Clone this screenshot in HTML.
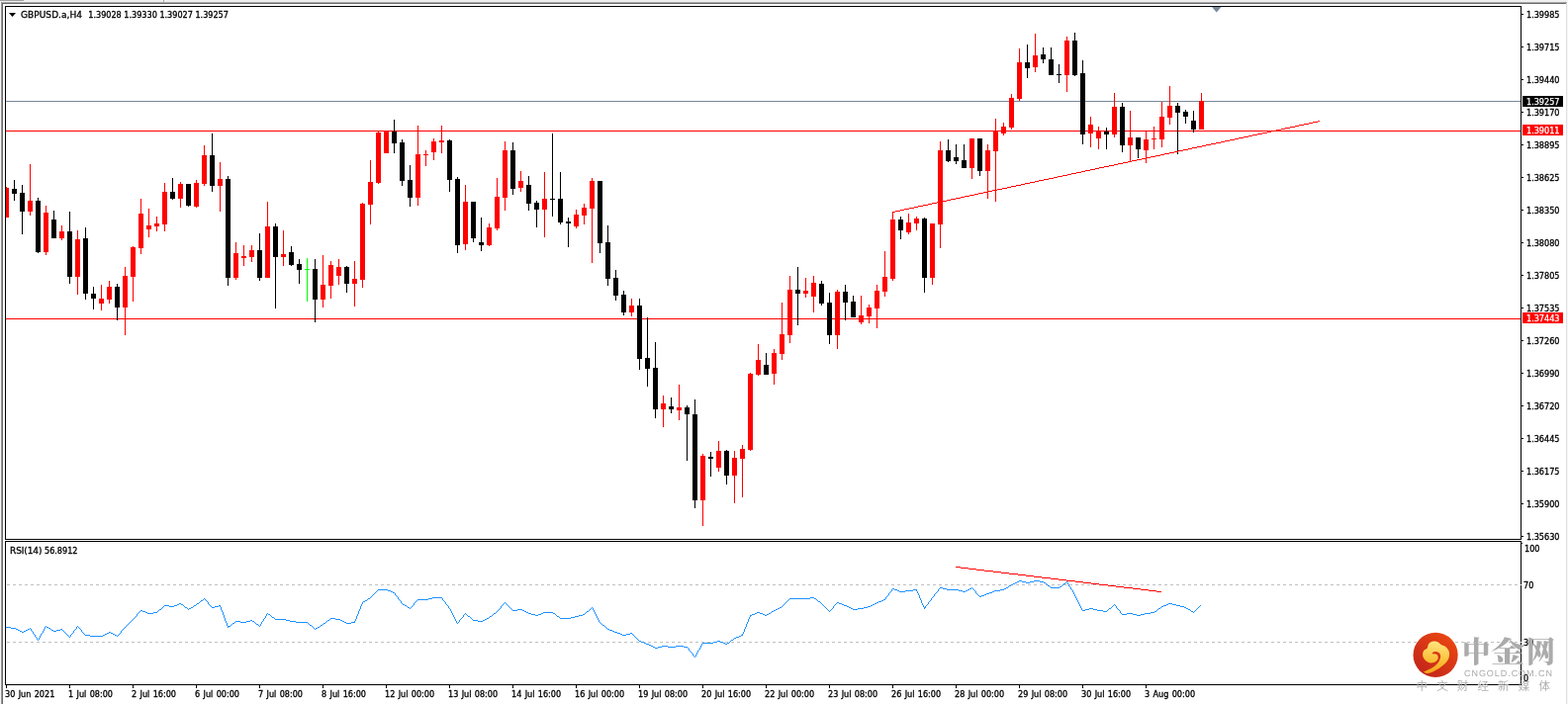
<!DOCTYPE html>
<html lang="en"><head><meta charset="utf-8"><title>GBPUSD.a,H4</title>
<style>
html,body{margin:0;padding:0;background:#fff;}
body{width:1585px;height:712px;overflow:hidden;position:relative;font-family:"Liberation Sans","Noto Sans CJK SC",sans-serif;}
#chart{position:absolute;left:0;top:0;width:1585px;height:712px;overflow:hidden;background:#fff;}
#chart svg{position:absolute;left:0;top:0;}
.t{position:absolute;white-space:pre;font-family:"DejaVu Sans Condensed","Liberation Sans",sans-serif;font-size:9px;line-height:12px;height:12px;color:#000;letter-spacing:0px;margin-top:-1px;-webkit-text-stroke:0.3px #000;}
.pl{left:1543px;}
.box{position:absolute;left:1539px;width:41px;height:11px;}
.box span{position:absolute;left:4px;top:0px;white-space:pre;font-family:"DejaVu Sans Condensed","Liberation Sans",sans-serif;font-size:9px;line-height:12px;color:#fff;letter-spacing:0px;-webkit-text-stroke:0.25px #fff;}
.tl{top:697px;word-spacing:0.8px;}
#wm{position:absolute;left:0;top:0;width:1585px;height:712px;}
#wm .cn{position:absolute;top:638px;font-family:"Liberation Serif","Noto Serif CJK SC",serif;font-weight:900;font-size:29px;line-height:44px;color:#ababab;white-space:pre;transform-origin:0 0;}
#wm .en{position:absolute;left:1480px;top:675px;font-size:9px;line-height:12px;color:#ababab;white-space:pre;letter-spacing:0.95px;text-rendering:geometricPrecision;}
#wm .sub{position:absolute;left:1431.5px;top:686px;font-family:"Liberation Sans","Noto Sans CJK SC",sans-serif;font-size:11.5px;line-height:16px;color:#b0b0b0;white-space:pre;letter-spacing:9.15px;font-weight:400;}
</style></head><body><div id="chart">
<svg width="1585" height="712" viewBox="0 0 1585 712" shape-rendering="crispEdges">
<rect x="0" y="0" width="1585" height="2" fill="#f0f0f0"/>
<rect x="0" y="0" width="24" height="1" fill="#a0a0a0"/>
<rect x="165" y="0" width="1" height="2" fill="#a8a8a8"/>
<rect x="0" y="2" width="1" height="710" fill="#f6f6f6"/>
<rect x="1" y="2" width="1583" height="1" fill="#a8a8a8"/>
<rect x="1" y="2" width="1" height="710" fill="#969696"/>
<rect x="2" y="3" width="1581" height="1" fill="#6a6a6a"/>
<rect x="2" y="3" width="1" height="709" fill="#6a6a6a"/>
<rect x="1583" y="3" width="1" height="709" fill="#e0e0e0"/>
<rect x="1584" y="0" width="1" height="712" fill="#f6f6f6"/>
<g fill="#000">
<rect x="5" y="6" width="1533" height="1"/>
<rect x="5" y="6" width="1" height="540"/>
<rect x="5" y="545" width="1533" height="1"/>
<rect x="1537" y="6" width="1" height="540"/>
<rect x="1537" y="547" width="1" height="146"/>
<rect x="5" y="547" width="1533" height="1"/>
<rect x="5" y="547" width="1" height="146"/>
<rect x="5" y="692" width="1533" height="1"/>
<rect x="1538" y="14" width="2" height="1"/>
<rect x="1538" y="47" width="2" height="1"/>
<rect x="1538" y="80" width="2" height="1"/>
<rect x="1538" y="113" width="2" height="1"/>
<rect x="1538" y="146" width="2" height="1"/>
<rect x="1538" y="179" width="2" height="1"/>
<rect x="1538" y="212" width="2" height="1"/>
<rect x="1538" y="245" width="2" height="1"/>
<rect x="1538" y="278" width="2" height="1"/>
<rect x="1538" y="311" width="2" height="1"/>
<rect x="1538" y="344" width="2" height="1"/>
<rect x="1538" y="377" width="2" height="1"/>
<rect x="1538" y="410" width="2" height="1"/>
<rect x="1538" y="443" width="2" height="1"/>
<rect x="1538" y="476" width="2" height="1"/>
<rect x="1538" y="509" width="2" height="1"/>
<rect x="1538" y="542" width="2" height="1"/>
<rect x="1538" y="549" width="1" height="1"/>
<rect x="6" y="693" width="1" height="3"/>
<rect x="70" y="693" width="1" height="3"/>
<rect x="134" y="693" width="1" height="3"/>
<rect x="198" y="693" width="1" height="3"/>
<rect x="262" y="693" width="1" height="3"/>
<rect x="326" y="693" width="1" height="3"/>
<rect x="390" y="693" width="1" height="3"/>
<rect x="454" y="693" width="1" height="3"/>
<rect x="518" y="693" width="1" height="3"/>
<rect x="582" y="693" width="1" height="3"/>
<rect x="646" y="693" width="1" height="3"/>
<rect x="710" y="693" width="1" height="3"/>
<rect x="774" y="693" width="1" height="3"/>
<rect x="838" y="693" width="1" height="3"/>
<rect x="902" y="693" width="1" height="3"/>
<rect x="966" y="693" width="1" height="3"/>
<rect x="1030" y="693" width="1" height="3"/>
<rect x="1094" y="693" width="1" height="3"/>
<rect x="1158" y="693" width="1" height="3"/>
</g>
<polygon points="9,13 16,13 12.5,17" fill="#000" shape-rendering="auto"/>
<polygon points="1225,7 1234.5,7 1229.75,12.4" fill="#778899" shape-rendering="auto"/>
<rect x="6" y="102" width="1531" height="1" fill="#778899"/>
<rect x="6" y="132" width="1531" height="1" fill="#ff0000"/>
<rect x="6" y="322" width="1531" height="1" fill="#ff0000"/>
<path d="M7 591.5H1537M7 649.5H1537" stroke="#c0c0c0" stroke-width="1" stroke-dasharray="3 3" fill="none"/>
<rect x="1537" y="591" width="1" height="1" fill="#c0c0c0"/><rect x="1537" y="649" width="1" height="1" fill="#c0c0c0"/>
<g fill="#ff0000"><rect x="6" y="189" width="1" height="31"/><rect x="6" y="190" width="3" height="30"/></g>
<g fill="#000000"><rect x="14" y="182" width="1" height="21"/><rect x="12" y="191" width="5" height="5"/></g>
<g fill="#000000"><rect x="22" y="187" width="1" height="50"/><rect x="20" y="195" width="5" height="19"/></g>
<g fill="#ff0000"><rect x="30" y="166" width="1" height="52"/><rect x="28" y="203" width="5" height="11"/></g>
<g fill="#000000"><rect x="38" y="200" width="1" height="56"/><rect x="36" y="203" width="5" height="52"/></g>
<g fill="#ff0000"><rect x="46" y="208" width="1" height="50"/><rect x="44" y="215" width="5" height="40"/></g>
<g fill="#000000"><rect x="54" y="213" width="1" height="28"/><rect x="52" y="222" width="5" height="19"/></g>
<g fill="#ff0000"><rect x="62" y="228" width="1" height="15"/><rect x="60" y="234" width="5" height="7"/></g>
<g fill="#000000"><rect x="70" y="214" width="1" height="73"/><rect x="68" y="234" width="5" height="46"/></g>
<g fill="#ff0000"><rect x="78" y="233" width="1" height="65"/><rect x="76" y="242" width="5" height="38"/></g>
<g fill="#000000"><rect x="86" y="230" width="1" height="73"/><rect x="84" y="241" width="5" height="56"/></g>
<g fill="#000000"><rect x="94" y="290" width="1" height="23"/><rect x="92" y="297" width="5" height="5"/></g>
<g fill="#ff0000"><rect x="102" y="288" width="1" height="26"/><rect x="100" y="302" width="5" height="5"/></g>
<g fill="#ff0000"><rect x="110" y="284" width="1" height="23"/><rect x="108" y="290" width="5" height="13"/></g>
<g fill="#000000"><rect x="118" y="287" width="1" height="37"/><rect x="116" y="290" width="5" height="21"/></g>
<g fill="#ff0000"><rect x="126" y="270" width="1" height="69"/><rect x="124" y="279" width="5" height="32"/></g>
<g fill="#ff0000"><rect x="134" y="249" width="1" height="56"/><rect x="132" y="250" width="5" height="30"/></g>
<g fill="#ff0000"><rect x="142" y="201" width="1" height="56"/><rect x="140" y="216" width="5" height="35"/></g>
<g fill="#ff0000"><rect x="150" y="211" width="1" height="29"/><rect x="148" y="228" width="5" height="4"/></g>
<g fill="#ff0000"><rect x="158" y="219" width="1" height="15"/><rect x="156" y="226" width="5" height="3"/></g>
<g fill="#ff0000"><rect x="166" y="185" width="1" height="49"/><rect x="164" y="194" width="5" height="33"/></g>
<g fill="#000000"><rect x="174" y="180" width="1" height="22"/><rect x="172" y="194" width="5" height="7"/></g>
<g fill="#ff0000"><rect x="182" y="184" width="1" height="26"/><rect x="180" y="186" width="5" height="15"/></g>
<g fill="#000000"><rect x="190" y="186" width="1" height="23"/><rect x="188" y="186" width="5" height="22"/></g>
<g fill="#ff0000"><rect x="198" y="182" width="1" height="28"/><rect x="196" y="185" width="5" height="24"/></g>
<g fill="#ff0000"><rect x="206" y="147" width="1" height="41"/><rect x="204" y="157" width="5" height="29"/></g>
<g fill="#000000"><rect x="214" y="135" width="1" height="59"/><rect x="212" y="157" width="5" height="31"/></g>
<g fill="#ff0000"><rect x="222" y="164" width="1" height="50"/><rect x="220" y="181" width="5" height="7"/></g>
<g fill="#000000"><rect x="230" y="178" width="1" height="111"/><rect x="228" y="181" width="5" height="100"/></g>
<g fill="#ff0000"><rect x="238" y="245" width="1" height="38"/><rect x="236" y="256" width="5" height="25"/></g>
<g fill="#ff0000"><rect x="246" y="248" width="1" height="21"/><rect x="244" y="259" width="5" height="2"/></g>
<g fill="#ff0000"><rect x="254" y="248" width="1" height="17"/><rect x="252" y="253" width="5" height="7"/></g>
<g fill="#000000"><rect x="262" y="236" width="1" height="48"/><rect x="260" y="253" width="5" height="28"/></g>
<g fill="#ff0000"><rect x="270" y="204" width="1" height="77"/><rect x="268" y="229" width="5" height="52"/></g>
<g fill="#000000"><rect x="278" y="226" width="1" height="86"/><rect x="276" y="229" width="5" height="31"/></g>
<g fill="#ff0000"><rect x="286" y="233" width="1" height="36"/><rect x="284" y="257" width="5" height="3"/></g>
<g fill="#000000"><rect x="294" y="249" width="1" height="20"/><rect x="292" y="255" width="5" height="13"/></g>
<g fill="#000000"><rect x="302" y="262" width="1" height="25"/><rect x="300" y="267" width="5" height="6"/></g>
<g fill="#00ff00"><rect x="310" y="261" width="1" height="44"/><rect x="308" y="272" width="5" height="1"/></g>
<g fill="#000000"><rect x="318" y="262" width="1" height="64"/><rect x="316" y="272" width="5" height="31"/></g>
<g fill="#ff0000"><rect x="326" y="258" width="1" height="53"/><rect x="324" y="288" width="5" height="15"/></g>
<g fill="#ff0000"><rect x="334" y="264" width="1" height="38"/><rect x="332" y="268" width="5" height="21"/></g>
<g fill="#ff0000"><rect x="342" y="262" width="1" height="26"/><rect x="340" y="270" width="5" height="9"/></g>
<g fill="#000000"><rect x="350" y="269" width="1" height="27"/><rect x="348" y="270" width="5" height="17"/></g>
<g fill="#ff0000"><rect x="358" y="264" width="1" height="46"/><rect x="356" y="282" width="5" height="5"/></g>
<g fill="#ff0000"><rect x="366" y="205" width="1" height="86"/><rect x="364" y="206" width="5" height="77"/></g>
<g fill="#ff0000"><rect x="374" y="162" width="1" height="65"/><rect x="372" y="184" width="5" height="23"/></g>
<g fill="#ff0000"><rect x="382" y="133" width="1" height="53"/><rect x="380" y="134" width="5" height="51"/></g>
<g fill="#ff0000"><rect x="390" y="133" width="1" height="22"/><rect x="388" y="133" width="5" height="22"/></g>
<g fill="#000000"><rect x="398" y="121" width="1" height="34"/><rect x="396" y="133" width="5" height="12"/></g>
<g fill="#000000"><rect x="406" y="141" width="1" height="47"/><rect x="404" y="144" width="5" height="39"/></g>
<g fill="#000000"><rect x="414" y="167" width="1" height="42"/><rect x="412" y="182" width="5" height="18"/></g>
<g fill="#ff0000"><rect x="422" y="127" width="1" height="81"/><rect x="420" y="156" width="5" height="44"/></g>
<g fill="#ff0000"><rect x="430" y="152" width="1" height="16"/><rect x="428" y="156" width="5" height="1"/></g>
<g fill="#ff0000"><rect x="438" y="140" width="1" height="22"/><rect x="436" y="143" width="5" height="11"/></g>
<g fill="#ff0000"><rect x="446" y="127" width="1" height="28"/><rect x="444" y="142" width="5" height="2"/></g>
<g fill="#000000"><rect x="454" y="141" width="1" height="53"/><rect x="452" y="142" width="5" height="40"/></g>
<g fill="#000000"><rect x="462" y="179" width="1" height="77"/><rect x="460" y="181" width="5" height="67"/></g>
<g fill="#ff0000"><rect x="470" y="187" width="1" height="66"/><rect x="468" y="204" width="5" height="43"/></g>
<g fill="#000000"><rect x="478" y="204" width="1" height="41"/><rect x="476" y="204" width="5" height="37"/></g>
<g fill="#000000"><rect x="486" y="220" width="1" height="34"/><rect x="484" y="245" width="5" height="3"/></g>
<g fill="#ff0000"><rect x="494" y="226" width="1" height="23"/><rect x="492" y="230" width="5" height="18"/></g>
<g fill="#ff0000"><rect x="502" y="180" width="1" height="53"/><rect x="500" y="199" width="5" height="32"/></g>
<g fill="#ff0000"><rect x="510" y="143" width="1" height="70"/><rect x="508" y="152" width="5" height="48"/></g>
<g fill="#000000"><rect x="518" y="144" width="1" height="53"/><rect x="516" y="152" width="5" height="39"/></g>
<g fill="#ff0000"><rect x="526" y="173" width="1" height="21"/><rect x="524" y="183" width="5" height="7"/></g>
<g fill="#000000"><rect x="534" y="178" width="1" height="35"/><rect x="532" y="187" width="5" height="19"/></g>
<g fill="#000000"><rect x="542" y="203" width="1" height="27"/><rect x="540" y="205" width="5" height="7"/></g>
<g fill="#ff0000"><rect x="550" y="174" width="1" height="66"/><rect x="548" y="201" width="5" height="11"/></g>
<g fill="#000000"><rect x="558" y="135" width="1" height="84"/><rect x="556" y="201" width="5" height="1"/></g>
<g fill="#000000"><rect x="566" y="174" width="1" height="53"/><rect x="564" y="201" width="5" height="24"/></g>
<g fill="#000000"><rect x="574" y="220" width="1" height="30"/><rect x="572" y="224" width="5" height="2"/></g>
<g fill="#ff0000"><rect x="582" y="212" width="1" height="19"/><rect x="580" y="217" width="5" height="12"/></g>
<g fill="#ff0000"><rect x="590" y="206" width="1" height="21"/><rect x="588" y="210" width="5" height="8"/></g>
<g fill="#ff0000"><rect x="598" y="180" width="1" height="86"/><rect x="596" y="183" width="5" height="28"/></g>
<g fill="#000000"><rect x="606" y="183" width="1" height="73"/><rect x="604" y="183" width="5" height="63"/></g>
<g fill="#000000"><rect x="614" y="228" width="1" height="61"/><rect x="612" y="245" width="5" height="37"/></g>
<g fill="#000000"><rect x="622" y="273" width="1" height="31"/><rect x="620" y="281" width="5" height="18"/></g>
<g fill="#000000"><rect x="630" y="294" width="1" height="25"/><rect x="628" y="298" width="5" height="18"/></g>
<g fill="#ff0000"><rect x="638" y="302" width="1" height="18"/><rect x="636" y="309" width="5" height="7"/></g>
<g fill="#000000"><rect x="646" y="302" width="1" height="72"/><rect x="644" y="309" width="5" height="54"/></g>
<g fill="#000000"><rect x="654" y="321" width="1" height="70"/><rect x="652" y="362" width="5" height="11"/></g>
<g fill="#000000"><rect x="662" y="346" width="1" height="77"/><rect x="660" y="372" width="5" height="42"/></g>
<g fill="#ff0000"><rect x="670" y="400" width="1" height="32"/><rect x="668" y="408" width="5" height="6"/></g>
<g fill="#000000"><rect x="678" y="402" width="1" height="16"/><rect x="676" y="411" width="5" height="3"/></g>
<g fill="#ff0000"><rect x="686" y="389" width="1" height="36"/><rect x="684" y="412" width="5" height="3"/></g>
<g fill="#000000"><rect x="694" y="410" width="1" height="56"/><rect x="692" y="412" width="5" height="7"/></g>
<g fill="#000000"><rect x="702" y="404" width="1" height="110"/><rect x="700" y="419" width="5" height="87"/></g>
<g fill="#ff0000"><rect x="710" y="459" width="1" height="73"/><rect x="708" y="461" width="5" height="45"/></g>
<g fill="#000000"><rect x="718" y="457" width="1" height="25"/><rect x="716" y="462" width="5" height="2"/></g>
<g fill="#ff0000"><rect x="726" y="446" width="1" height="31"/><rect x="724" y="456" width="5" height="17"/></g>
<g fill="#000000"><rect x="734" y="455" width="1" height="35"/><rect x="732" y="456" width="5" height="25"/></g>
<g fill="#ff0000"><rect x="742" y="456" width="1" height="53"/><rect x="740" y="463" width="5" height="18"/></g>
<g fill="#ff0000"><rect x="750" y="450" width="1" height="53"/><rect x="748" y="454" width="5" height="10"/></g>
<g fill="#ff0000"><rect x="758" y="377" width="1" height="79"/><rect x="756" y="378" width="5" height="77"/></g>
<g fill="#ff0000"><rect x="766" y="348" width="1" height="32"/><rect x="764" y="364" width="5" height="15"/></g>
<g fill="#000000"><rect x="774" y="357" width="1" height="22"/><rect x="772" y="369" width="5" height="10"/></g>
<g fill="#ff0000"><rect x="782" y="353" width="1" height="36"/><rect x="780" y="357" width="5" height="21"/></g>
<g fill="#ff0000"><rect x="790" y="306" width="1" height="58"/><rect x="788" y="338" width="5" height="20"/></g>
<g fill="#ff0000"><rect x="798" y="279" width="1" height="68"/><rect x="796" y="293" width="5" height="46"/></g>
<g fill="#000000"><rect x="806" y="270" width="1" height="59"/><rect x="804" y="293" width="5" height="4"/></g>
<g fill="#ff0000"><rect x="814" y="281" width="1" height="20"/><rect x="812" y="294" width="5" height="3"/></g>
<g fill="#ff0000"><rect x="822" y="279" width="1" height="37"/><rect x="820" y="286" width="5" height="14"/></g>
<g fill="#000000"><rect x="830" y="284" width="1" height="25"/><rect x="828" y="287" width="5" height="20"/></g>
<g fill="#000000"><rect x="838" y="296" width="1" height="52"/><rect x="836" y="306" width="5" height="33"/></g>
<g fill="#ff0000"><rect x="846" y="293" width="1" height="60"/><rect x="844" y="295" width="5" height="44"/></g>
<g fill="#000000"><rect x="854" y="288" width="1" height="36"/><rect x="852" y="295" width="5" height="11"/></g>
<g fill="#000000"><rect x="862" y="299" width="1" height="22"/><rect x="860" y="305" width="5" height="16"/></g>
<g fill="#ff0000"><rect x="870" y="299" width="1" height="29"/><rect x="868" y="319" width="5" height="7"/></g>
<g fill="#ff0000"><rect x="878" y="308" width="1" height="19"/><rect x="876" y="311" width="5" height="9"/></g>
<g fill="#ff0000"><rect x="886" y="288" width="1" height="44"/><rect x="884" y="294" width="5" height="18"/></g>
<g fill="#ff0000"><rect x="894" y="254" width="1" height="46"/><rect x="892" y="280" width="5" height="15"/></g>
<g fill="#ff0000"><rect x="902" y="214" width="1" height="70"/><rect x="900" y="222" width="5" height="60"/></g>
<g fill="#000000"><rect x="910" y="219" width="1" height="23"/><rect x="908" y="222" width="5" height="11"/></g>
<g fill="#ff0000"><rect x="918" y="216" width="1" height="21"/><rect x="916" y="225" width="5" height="10"/></g>
<g fill="#ff0000"><rect x="926" y="219" width="1" height="14"/><rect x="924" y="221" width="5" height="5"/></g>
<g fill="#000000"><rect x="934" y="220" width="1" height="76"/><rect x="932" y="221" width="5" height="60"/></g>
<g fill="#ff0000"><rect x="942" y="226" width="1" height="62"/><rect x="940" y="226" width="5" height="55"/></g>
<g fill="#ff0000"><rect x="950" y="143" width="1" height="108"/><rect x="948" y="152" width="5" height="75"/></g>
<g fill="#000000"><rect x="958" y="141" width="1" height="23"/><rect x="956" y="152" width="5" height="11"/></g>
<g fill="#000000"><rect x="966" y="146" width="1" height="20"/><rect x="964" y="159" width="5" height="4"/></g>
<g fill="#000000"><rect x="974" y="146" width="1" height="24"/><rect x="972" y="162" width="5" height="8"/></g>
<g fill="#ff0000"><rect x="982" y="140" width="1" height="41"/><rect x="980" y="140" width="5" height="30"/></g>
<g fill="#000000"><rect x="990" y="140" width="1" height="38"/><rect x="988" y="140" width="5" height="33"/></g>
<g fill="#ff0000"><rect x="998" y="146" width="1" height="55"/><rect x="996" y="152" width="5" height="21"/></g>
<g fill="#ff0000"><rect x="1006" y="120" width="1" height="84"/><rect x="1004" y="132" width="5" height="21"/></g>
<g fill="#ff0000"><rect x="1014" y="124" width="1" height="13"/><rect x="1012" y="128" width="5" height="7"/></g>
<g fill="#ff0000"><rect x="1022" y="95" width="1" height="36"/><rect x="1020" y="99" width="5" height="30"/></g>
<g fill="#ff0000"><rect x="1030" y="49" width="1" height="53"/><rect x="1028" y="63" width="5" height="37"/></g>
<g fill="#000000"><rect x="1038" y="45" width="1" height="34"/><rect x="1036" y="63" width="5" height="6"/></g>
<g fill="#ff0000"><rect x="1046" y="34" width="1" height="39"/><rect x="1044" y="56" width="5" height="12"/></g>
<g fill="#000000"><rect x="1054" y="48" width="1" height="16"/><rect x="1052" y="55" width="5" height="5"/></g>
<g fill="#000000"><rect x="1062" y="48" width="1" height="28"/><rect x="1060" y="60" width="5" height="16"/></g>
<g fill="#000000"><rect x="1070" y="65" width="1" height="19"/><rect x="1068" y="75" width="5" height="1"/></g>
<g fill="#ff0000"><rect x="1078" y="37" width="1" height="56"/><rect x="1076" y="41" width="5" height="35"/></g>
<g fill="#000000"><rect x="1086" y="33" width="1" height="44"/><rect x="1084" y="41" width="5" height="35"/></g>
<g fill="#000000"><rect x="1094" y="61" width="1" height="85"/><rect x="1092" y="74" width="5" height="62"/></g>
<g fill="#ff0000"><rect x="1102" y="118" width="1" height="31"/><rect x="1100" y="126" width="5" height="9"/></g>
<g fill="#ff0000"><rect x="1110" y="128" width="1" height="23"/><rect x="1108" y="132" width="5" height="8"/></g>
<g fill="#000000"><rect x="1118" y="129" width="1" height="22"/><rect x="1116" y="133" width="5" height="3"/></g>
<g fill="#ff0000"><rect x="1126" y="94" width="1" height="45"/><rect x="1124" y="108" width="5" height="28"/></g>
<g fill="#000000"><rect x="1134" y="104" width="1" height="50"/><rect x="1132" y="108" width="5" height="39"/></g>
<g fill="#ff0000"><rect x="1142" y="112" width="1" height="52"/><rect x="1140" y="139" width="5" height="8"/></g>
<g fill="#000000"><rect x="1150" y="139" width="1" height="21"/><rect x="1148" y="139" width="5" height="12"/></g>
<g fill="#ff0000"><rect x="1158" y="133" width="1" height="32"/><rect x="1156" y="141" width="5" height="11"/></g>
<g fill="#ff0000"><rect x="1166" y="128" width="1" height="23"/><rect x="1164" y="140" width="5" height="1"/></g>
<g fill="#ff0000"><rect x="1174" y="103" width="1" height="46"/><rect x="1172" y="118" width="5" height="23"/></g>
<g fill="#ff0000"><rect x="1182" y="87" width="1" height="39"/><rect x="1180" y="107" width="5" height="12"/></g>
<g fill="#000000"><rect x="1190" y="104" width="1" height="52"/><rect x="1188" y="107" width="5" height="7"/></g>
<g fill="#000000"><rect x="1198" y="111" width="1" height="14"/><rect x="1196" y="113" width="5" height="5"/></g>
<g fill="#000000"><rect x="1206" y="112" width="1" height="22"/><rect x="1204" y="122" width="5" height="9"/></g>
<g fill="#ff0000"><rect x="1214" y="94" width="1" height="37"/><rect x="1212" y="102" width="5" height="29"/></g>
<path d="M1332 122h2v1h-2zM1327 123h5v1h-5zM1323 124h4v1h-4zM1318 125h5v1h-5zM1313 126h5v1h-5zM1309 127h4v1h-4zM1304 128h5v1h-5zM1299 129h5v1h-5zM1295 130h4v1h-4zM1290 131h5v1h-5zM1285 132h5v1h-5zM1281 133h4v1h-4zM1276 134h5v1h-5zM1271 135h5v1h-5zM1266 136h5v1h-5zM1262 137h4v1h-4zM1257 138h5v1h-5zM1252 139h5v1h-5zM1248 140h4v1h-4zM1243 141h5v1h-5zM1238 142h5v1h-5zM1234 143h4v1h-4zM1229 144h5v1h-5zM1224 145h5v1h-5zM1219 146h5v1h-5zM1215 147h4v1h-4zM1210 148h5v1h-5zM1205 149h5v1h-5zM1201 150h4v1h-4zM1196 151h5v1h-5zM1191 152h5v1h-5zM1187 153h4v1h-4zM1182 154h5v1h-5zM1177 155h5v1h-5zM1173 156h4v1h-4zM1168 157h5v1h-5zM1163 158h5v1h-5zM1158 159h5v1h-5zM1154 160h4v1h-4zM1149 161h5v1h-5zM1144 162h5v1h-5zM1140 163h4v1h-4zM1135 164h5v1h-5zM1130 165h5v1h-5zM1126 166h4v1h-4zM1121 167h5v1h-5zM1116 168h5v1h-5zM1111 169h5v1h-5zM1107 170h4v1h-4zM1102 171h5v1h-5zM1097 172h5v1h-5zM1093 173h4v1h-4zM1088 174h5v1h-5zM1083 175h5v1h-5zM1079 176h4v1h-4zM1074 177h5v1h-5zM1069 178h5v1h-5zM1065 179h4v1h-4zM1060 180h5v1h-5zM1055 181h5v1h-5zM1050 182h5v1h-5zM1046 183h4v1h-4zM1041 184h5v1h-5zM1036 185h5v1h-5zM1032 186h4v1h-4zM1027 187h5v1h-5zM1022 188h5v1h-5zM1018 189h4v1h-4zM1013 190h5v1h-5zM1008 191h5v1h-5zM1003 192h5v1h-5zM999 193h4v1h-4zM994 194h5v1h-5zM989 195h5v1h-5zM985 196h4v1h-4zM980 197h5v1h-5zM975 198h5v1h-5zM971 199h4v1h-4zM966 200h5v1h-5zM961 201h5v1h-5zM957 202h4v1h-4zM952 203h5v1h-5zM947 204h5v1h-5zM942 205h5v1h-5zM938 206h4v1h-4zM933 207h5v1h-5zM928 208h5v1h-5zM924 209h4v1h-4zM919 210h5v1h-5zM914 211h5v1h-5zM910 212h4v1h-4zM905 213h5v1h-5zM902 214h3v1h-3z" fill="#ff0000"/>
<path d="M1030 587h3v1h-3zM1045 587h6v1h-6zM1028 588h2v1h-2zM1033 588h4v1h-4zM1041 588h4v1h-4zM1051 588h4v1h-4zM1078 588h1v1h-1zM1026 589h2v1h-2zM1037 589h4v1h-4zM1055 589h2v1h-2zM1077 589h1v1h-1zM1079 589h1v1h-1zM1024 590h2v1h-2zM1057 590h1v1h-1zM1075 590h2v1h-2zM1079 590h1v1h-1zM1022 591h2v1h-2zM1058 591h1v1h-1zM1074 591h1v1h-1zM1080 591h1v1h-1zM1020 592h2v1h-2zM1059 592h2v1h-2zM1073 592h1v1h-1zM1080 592h1v1h-1zM1019 593h1v1h-1zM1061 593h1v1h-1zM1071 593h2v1h-2zM1081 593h1v1h-1zM950 594h3v1h-3zM982 594h1v1h-1zM1017 594h2v1h-2zM1062 594h9v1h-9zM1082 594h1v1h-1zM902 595h2v1h-2zM949 595h1v1h-1zM953 595h4v1h-4zM980 595h2v1h-2zM983 595h1v1h-1zM1015 595h2v1h-2zM1082 595h1v1h-1zM382 596h10v1h-10zM901 596h1v1h-1zM904 596h3v1h-3zM923 596h4v1h-4zM948 596h1v1h-1zM957 596h12v1h-12zM978 596h2v1h-2zM984 596h1v1h-1zM1011 596h4v1h-4zM1083 596h1v1h-1zM381 597h1v1h-1zM392 597h3v1h-3zM901 597h1v1h-1zM907 597h2v1h-2zM915 597h8v1h-8zM926 597h1v1h-1zM948 597h1v1h-1zM969 597h4v1h-4zM976 597h2v1h-2zM985 597h1v1h-1zM1005 597h6v1h-6zM1084 597h1v1h-1zM380 598h1v1h-1zM395 598h2v1h-2zM900 598h1v1h-1zM909 598h6v1h-6zM927 598h1v1h-1zM947 598h1v1h-1zM973 598h3v1h-3zM986 598h1v1h-1zM1003 598h2v1h-2zM1084 598h1v1h-1zM379 599h1v1h-1zM397 599h2v1h-2zM899 599h1v1h-1zM927 599h1v1h-1zM946 599h1v1h-1zM986 599h1v1h-1zM1000 599h3v1h-3zM1085 599h1v1h-1zM378 600h1v1h-1zM399 600h1v1h-1zM898 600h1v1h-1zM928 600h1v1h-1zM945 600h1v1h-1zM987 600h1v1h-1zM997 600h3v1h-3zM1085 600h1v1h-1zM377 601h1v1h-1zM399 601h1v1h-1zM898 601h1v1h-1zM928 601h1v1h-1zM944 601h1v1h-1zM988 601h1v1h-1zM995 601h2v1h-2zM1086 601h1v1h-1zM376 602h1v1h-1zM400 602h1v1h-1zM897 602h1v1h-1zM929 602h1v1h-1zM944 602h1v1h-1zM989 602h1v1h-1zM992 602h3v1h-3zM1086 602h1v1h-1zM375 603h1v1h-1zM401 603h1v1h-1zM896 603h1v1h-1zM929 603h1v1h-1zM943 603h1v1h-1zM990 603h2v1h-2zM1087 603h1v1h-1zM374 604h1v1h-1zM402 604h1v1h-1zM437 604h10v1h-10zM819 604h4v1h-4zM895 604h1v1h-1zM929 604h1v1h-1zM942 604h1v1h-1zM1087 604h1v1h-1zM206 605h1v1h-1zM372 605h2v1h-2zM402 605h1v1h-1zM433 605h4v1h-4zM447 605h1v1h-1zM798 605h21v1h-21zM823 605h2v1h-2zM895 605h1v1h-1zM930 605h1v1h-1zM941 605h1v1h-1zM1088 605h1v1h-1zM205 606h1v1h-1zM207 606h1v1h-1zM371 606h1v1h-1zM403 606h1v1h-1zM422 606h11v1h-11zM447 606h1v1h-1zM797 606h1v1h-1zM825 606h1v1h-1zM893 606h2v1h-2zM930 606h1v1h-1zM941 606h1v1h-1zM1088 606h1v1h-1zM203 607h2v1h-2zM208 607h1v1h-1zM369 607h2v1h-2zM404 607h1v1h-1zM421 607h1v1h-1zM448 607h1v1h-1zM796 607h1v1h-1zM826 607h1v1h-1zM891 607h2v1h-2zM931 607h1v1h-1zM940 607h1v1h-1zM1089 607h1v1h-1zM202 608h1v1h-1zM209 608h1v1h-1zM367 608h2v1h-2zM405 608h1v1h-1zM420 608h1v1h-1zM449 608h1v1h-1zM795 608h1v1h-1zM827 608h2v1h-2zM888 608h3v1h-3zM931 608h1v1h-1zM939 608h1v1h-1zM1089 608h1v1h-1zM201 609h1v1h-1zM210 609h1v1h-1zM366 609h1v1h-1zM405 609h1v1h-1zM419 609h1v1h-1zM450 609h1v1h-1zM510 609h1v1h-1zM794 609h1v1h-1zM829 609h1v1h-1zM846 609h2v1h-2zM886 609h2v1h-2zM931 609h1v1h-1zM938 609h1v1h-1zM1090 609h1v1h-1zM181 610h2v1h-2zM199 610h2v1h-2zM210 610h1v1h-1zM366 610h1v1h-1zM406 610h1v1h-1zM418 610h1v1h-1zM450 610h1v1h-1zM509 610h1v1h-1zM511 610h1v1h-1zM793 610h1v1h-1zM830 610h1v1h-1zM845 610h1v1h-1zM848 610h3v1h-3zM884 610h2v1h-2zM932 610h1v1h-1zM938 610h1v1h-1zM1090 610h1v1h-1zM1181 610h4v1h-4zM179 611h2v1h-2zM183 611h2v1h-2zM198 611h1v1h-1zM211 611h1v1h-1zM365 611h1v1h-1zM407 611h2v1h-2zM418 611h1v1h-1zM451 611h1v1h-1zM508 611h1v1h-1zM512 611h1v1h-1zM792 611h1v1h-1zM831 611h1v1h-1zM844 611h1v1h-1zM851 611h2v1h-2zM882 611h2v1h-2zM932 611h1v1h-1zM937 611h1v1h-1zM1091 611h1v1h-1zM1126 611h1v1h-1zM1179 611h2v1h-2zM1185 611h4v1h-4zM166 612h5v1h-5zM176 612h3v1h-3zM185 612h1v1h-1zM196 612h2v1h-2zM212 612h1v1h-1zM221 612h2v1h-2zM365 612h1v1h-1zM409 612h2v1h-2zM417 612h1v1h-1zM452 612h1v1h-1zM507 612h1v1h-1zM513 612h1v1h-1zM791 612h1v1h-1zM832 612h1v1h-1zM843 612h1v1h-1zM853 612h3v1h-3zM880 612h2v1h-2zM933 612h1v1h-1zM936 612h1v1h-1zM1091 612h1v1h-1zM1125 612h1v1h-1zM1127 612h1v1h-1zM1176 612h3v1h-3zM1189 612h4v1h-4zM1213 612h1v1h-1zM165 613h1v1h-1zM171 613h5v1h-5zM186 613h1v1h-1zM195 613h1v1h-1zM213 613h1v1h-1zM217 613h4v1h-4zM222 613h1v1h-1zM364 613h1v1h-1zM411 613h1v1h-1zM416 613h1v1h-1zM453 613h1v1h-1zM506 613h1v1h-1zM514 613h1v1h-1zM790 613h1v1h-1zM833 613h1v1h-1zM842 613h1v1h-1zM856 613h2v1h-2zM877 613h3v1h-3zM933 613h1v1h-1zM935 613h1v1h-1zM1092 613h1v1h-1zM1124 613h1v1h-1zM1128 613h1v1h-1zM1174 613h2v1h-2zM1193 613h4v1h-4zM1212 613h1v1h-1zM164 614h1v1h-1zM187 614h2v1h-2zM193 614h2v1h-2zM214 614h3v1h-3zM223 614h1v1h-1zM364 614h1v1h-1zM412 614h2v1h-2zM415 614h1v1h-1zM453 614h1v1h-1zM506 614h1v1h-1zM515 614h1v1h-1zM598 614h1v1h-1zM788 614h2v1h-2zM834 614h1v1h-1zM842 614h1v1h-1zM858 614h2v1h-2zM873 614h4v1h-4zM934 614h2v1h-2zM1092 614h1v1h-1zM1123 614h1v1h-1zM1128 614h1v1h-1zM1173 614h1v1h-1zM1197 614h2v1h-2zM1211 614h1v1h-1zM163 615h1v1h-1zM189 615h1v1h-1zM191 615h2v1h-2zM223 615h1v1h-1zM364 615h1v1h-1zM414 615h1v1h-1zM454 615h1v1h-1zM505 615h1v1h-1zM516 615h1v1h-1zM597 615h1v1h-1zM599 615h1v1h-1zM786 615h2v1h-2zM835 615h1v1h-1zM841 615h1v1h-1zM860 615h2v1h-2zM867 615h6v1h-6zM934 615h1v1h-1zM1093 615h1v1h-1zM1101 615h4v1h-4zM1121 615h2v1h-2zM1129 615h1v1h-1zM1171 615h2v1h-2zM1199 615h2v1h-2zM1210 615h1v1h-1zM161 616h2v1h-2zM190 616h1v1h-1zM223 616h1v1h-1zM363 616h1v1h-1zM455 616h1v1h-1zM504 616h1v1h-1zM517 616h1v1h-1zM523 616h5v1h-5zM596 616h1v1h-1zM599 616h1v1h-1zM784 616h2v1h-2zM836 616h1v1h-1zM840 616h1v1h-1zM862 616h5v1h-5zM1093 616h1v1h-1zM1097 616h4v1h-4zM1105 616h4v1h-4zM1120 616h1v1h-1zM1130 616h1v1h-1zM1170 616h1v1h-1zM1201 616h2v1h-2zM1209 616h1v1h-1zM142 617h2v1h-2zM160 617h1v1h-1zM224 617h1v1h-1zM363 617h1v1h-1zM455 617h1v1h-1zM503 617h1v1h-1zM518 617h5v1h-5zM528 617h2v1h-2zM595 617h1v1h-1zM600 617h1v1h-1zM782 617h2v1h-2zM837 617h1v1h-1zM839 617h1v1h-1zM1094 617h3v1h-3zM1109 617h6v1h-6zM1119 617h1v1h-1zM1131 617h1v1h-1zM1169 617h1v1h-1zM1203 617h1v1h-1zM1208 617h1v1h-1zM141 618h1v1h-1zM144 618h3v1h-3zM159 618h1v1h-1zM224 618h1v1h-1zM362 618h1v1h-1zM456 618h1v1h-1zM502 618h1v1h-1zM530 618h2v1h-2zM593 618h2v1h-2zM600 618h1v1h-1zM780 618h2v1h-2zM838 618h1v1h-1zM1115 618h4v1h-4zM1132 618h1v1h-1zM1167 618h2v1h-2zM1204 618h2v1h-2zM1207 618h1v1h-1zM140 619h1v1h-1zM147 619h2v1h-2zM155 619h4v1h-4zM225 619h1v1h-1zM362 619h1v1h-1zM456 619h1v1h-1zM501 619h1v1h-1zM532 619h2v1h-2zM549 619h10v1h-10zM592 619h1v1h-1zM601 619h1v1h-1zM765 619h3v1h-3zM779 619h1v1h-1zM1132 619h1v1h-1zM1163 619h4v1h-4zM1206 619h1v1h-1zM139 620h1v1h-1zM149 620h6v1h-6zM225 620h1v1h-1zM270 620h1v1h-1zM362 620h1v1h-1zM457 620h1v1h-1zM470 620h1v1h-1zM499 620h2v1h-2zM534 620h3v1h-3zM547 620h2v1h-2zM559 620h2v1h-2zM591 620h1v1h-1zM601 620h1v1h-1zM763 620h2v1h-2zM768 620h3v1h-3zM777 620h2v1h-2zM1133 620h1v1h-1zM1139 620h6v1h-6zM1157 620h6v1h-6zM138 621h1v1h-1zM225 621h1v1h-1zM269 621h1v1h-1zM271 621h2v1h-2zM361 621h1v1h-1zM457 621h1v1h-1zM469 621h1v1h-1zM471 621h1v1h-1zM498 621h1v1h-1zM537 621h4v1h-4zM544 621h3v1h-3zM561 621h1v1h-1zM589 621h2v1h-2zM602 621h1v1h-1zM760 621h3v1h-3zM771 621h2v1h-2zM775 621h2v1h-2zM1134 621h5v1h-5zM1145 621h4v1h-4zM1153 621h4v1h-4zM138 622h1v1h-1zM226 622h1v1h-1zM269 622h1v1h-1zM273 622h1v1h-1zM361 622h1v1h-1zM458 622h1v1h-1zM468 622h1v1h-1zM472 622h1v1h-1zM497 622h1v1h-1zM541 622h3v1h-3zM562 622h1v1h-1zM585 622h4v1h-4zM602 622h1v1h-1zM758 622h2v1h-2zM773 622h2v1h-2zM1149 622h4v1h-4zM137 623h1v1h-1zM226 623h1v1h-1zM268 623h1v1h-1zM274 623h1v1h-1zM360 623h1v1h-1zM458 623h1v1h-1zM468 623h1v1h-1zM473 623h2v1h-2zM495 623h2v1h-2zM563 623h2v1h-2zM581 623h4v1h-4zM603 623h1v1h-1zM758 623h1v1h-1zM136 624h1v1h-1zM226 624h1v1h-1zM268 624h1v1h-1zM275 624h2v1h-2zM360 624h1v1h-1zM459 624h1v1h-1zM467 624h1v1h-1zM475 624h1v1h-1zM494 624h1v1h-1zM565 624h1v1h-1zM577 624h4v1h-4zM603 624h1v1h-1zM757 624h1v1h-1zM135 625h1v1h-1zM227 625h1v1h-1zM267 625h1v1h-1zM277 625h1v1h-1zM334 625h5v1h-5zM360 625h1v1h-1zM459 625h1v1h-1zM466 625h1v1h-1zM476 625h1v1h-1zM492 625h2v1h-2zM566 625h11v1h-11zM604 625h1v1h-1zM757 625h1v1h-1zM134 626h1v1h-1zM227 626h1v1h-1zM266 626h1v1h-1zM278 626h11v1h-11zM333 626h1v1h-1zM339 626h5v1h-5zM359 626h1v1h-1zM460 626h1v1h-1zM465 626h1v1h-1zM477 626h1v1h-1zM490 626h2v1h-2zM604 626h1v1h-1zM756 626h1v1h-1zM133 627h1v1h-1zM227 627h1v1h-1zM253 627h2v1h-2zM266 627h1v1h-1zM289 627h4v1h-4zM331 627h2v1h-2zM344 627h2v1h-2zM359 627h1v1h-1zM460 627h1v1h-1zM464 627h1v1h-1zM478 627h5v1h-5zM488 627h2v1h-2zM605 627h1v1h-1zM756 627h1v1h-1zM132 628h1v1h-1zM228 628h1v1h-1zM238 628h5v1h-5zM249 628h4v1h-4zM255 628h2v1h-2zM265 628h1v1h-1zM293 628h6v1h-6zM330 628h1v1h-1zM346 628h2v1h-2zM358 628h1v1h-1zM461 628h1v1h-1zM464 628h1v1h-1zM483 628h5v1h-5zM605 628h1v1h-1zM756 628h1v1h-1zM131 629h1v1h-1zM228 629h1v1h-1zM237 629h1v1h-1zM243 629h6v1h-6zM257 629h1v1h-1zM264 629h1v1h-1zM299 629h12v1h-12zM329 629h1v1h-1zM348 629h2v1h-2zM355 629h4v1h-4zM461 629h1v1h-1zM463 629h1v1h-1zM606 629h1v1h-1zM755 629h1v1h-1zM130 630h1v1h-1zM229 630h1v1h-1zM235 630h2v1h-2zM258 630h1v1h-1zM264 630h1v1h-1zM311 630h1v1h-1zM327 630h2v1h-2zM350 630h5v1h-5zM462 630h1v1h-1zM607 630h1v1h-1zM755 630h1v1h-1zM129 631h1v1h-1zM229 631h1v1h-1zM234 631h1v1h-1zM259 631h2v1h-2zM263 631h1v1h-1zM312 631h1v1h-1zM326 631h1v1h-1zM608 631h1v1h-1zM754 631h1v1h-1zM128 632h1v1h-1zM229 632h1v1h-1zM233 632h1v1h-1zM261 632h1v1h-1zM263 632h1v1h-1zM313 632h2v1h-2zM324 632h2v1h-2zM609 632h2v1h-2zM754 632h1v1h-1zM46 633h1v1h-1zM78 633h1v1h-1zM127 633h1v1h-1zM230 633h3v1h-3zM262 633h1v1h-1zM315 633h1v1h-1zM323 633h1v1h-1zM611 633h1v1h-1zM754 633h1v1h-1zM6 634h5v1h-5zM45 634h1v1h-1zM47 634h2v1h-2zM77 634h1v1h-1zM79 634h1v1h-1zM126 634h1v1h-1zM230 634h1v1h-1zM316 634h1v1h-1zM321 634h2v1h-2zM612 634h1v1h-1zM753 634h1v1h-1zM11 635h5v1h-5zM30 635h1v1h-1zM45 635h1v1h-1zM49 635h2v1h-2zM77 635h1v1h-1zM80 635h1v1h-1zM125 635h1v1h-1zM317 635h1v1h-1zM319 635h2v1h-2zM613 635h1v1h-1zM753 635h1v1h-1zM16 636h2v1h-2zM28 636h2v1h-2zM31 636h1v1h-1zM44 636h1v1h-1zM51 636h1v1h-1zM61 636h2v1h-2zM76 636h1v1h-1zM81 636h1v1h-1zM124 636h1v1h-1zM318 636h1v1h-1zM614 636h2v1h-2zM752 636h1v1h-1zM18 637h2v1h-2zM26 637h2v1h-2zM31 637h1v1h-1zM44 637h1v1h-1zM52 637h2v1h-2zM57 637h4v1h-4zM63 637h1v1h-1zM75 637h1v1h-1zM82 637h1v1h-1zM123 637h1v1h-1zM616 637h3v1h-3zM752 637h1v1h-1zM20 638h2v1h-2zM24 638h2v1h-2zM32 638h1v1h-1zM43 638h1v1h-1zM54 638h3v1h-3zM64 638h1v1h-1zM74 638h1v1h-1zM82 638h1v1h-1zM122 638h1v1h-1zM619 638h2v1h-2zM752 638h1v1h-1zM22 639h2v1h-2zM33 639h1v1h-1zM43 639h1v1h-1zM65 639h1v1h-1zM74 639h1v1h-1zM83 639h1v1h-1zM110 639h2v1h-2zM122 639h1v1h-1zM621 639h3v1h-3zM751 639h1v1h-1zM33 640h1v1h-1zM42 640h1v1h-1zM66 640h1v1h-1zM73 640h1v1h-1zM84 640h1v1h-1zM108 640h2v1h-2zM112 640h2v1h-2zM121 640h1v1h-1zM624 640h3v1h-3zM637 640h2v1h-2zM751 640h1v1h-1zM34 641h1v1h-1zM41 641h1v1h-1zM67 641h1v1h-1zM72 641h1v1h-1zM85 641h1v1h-1zM106 641h2v1h-2zM114 641h2v1h-2zM120 641h1v1h-1zM627 641h2v1h-2zM633 641h4v1h-4zM639 641h1v1h-1zM750 641h1v1h-1zM35 642h1v1h-1zM41 642h1v1h-1zM68 642h1v1h-1zM71 642h1v1h-1zM86 642h5v1h-5zM104 642h2v1h-2zM116 642h2v1h-2zM119 642h1v1h-1zM629 642h4v1h-4zM640 642h1v1h-1zM749 642h2v1h-2zM35 643h1v1h-1zM40 643h1v1h-1zM69 643h1v1h-1zM71 643h1v1h-1zM91 643h13v1h-13zM118 643h1v1h-1zM641 643h1v1h-1zM747 643h2v1h-2zM36 644h1v1h-1zM40 644h1v1h-1zM70 644h1v1h-1zM642 644h1v1h-1zM744 644h3v1h-3zM37 645h1v1h-1zM39 645h1v1h-1zM643 645h1v1h-1zM742 645h2v1h-2zM37 646h1v1h-1zM39 646h1v1h-1zM644 646h1v1h-1zM741 646h1v1h-1zM38 647h1v1h-1zM645 647h1v1h-1zM739 647h2v1h-2zM646 648h2v1h-2zM725 648h3v1h-3zM738 648h1v1h-1zM648 649h3v1h-3zM721 649h4v1h-4zM728 649h3v1h-3zM737 649h1v1h-1zM651 650h2v1h-2zM710 650h11v1h-11zM731 650h2v1h-2zM735 650h2v1h-2zM653 651h3v1h-3zM709 651h1v1h-1zM733 651h2v1h-2zM656 652h2v1h-2zM709 652h1v1h-1zM658 653h2v1h-2zM669 653h6v1h-6zM683 653h8v1h-8zM708 653h1v1h-1zM660 654h2v1h-2zM665 654h4v1h-4zM675 654h8v1h-8zM691 654h4v1h-4zM708 654h1v1h-1zM662 655h3v1h-3zM695 655h1v1h-1zM707 655h1v1h-1zM696 656h1v1h-1zM707 656h1v1h-1zM696 657h1v1h-1zM706 657h1v1h-1zM697 658h1v1h-1zM705 658h1v1h-1zM698 659h1v1h-1zM705 659h1v1h-1zM699 660h1v1h-1zM704 660h1v1h-1zM700 661h1v1h-1zM704 661h1v1h-1zM700 662h1v1h-1zM703 662h1v1h-1zM701 663h1v1h-1zM703 663h1v1h-1zM702 664h1v1h-1z" fill="#1e90ff"/>
<path d="M966 573h5v1h-5zM971 574h8v1h-8zM979 575h8v1h-8zM987 576h8v1h-8zM995 577h9v1h-9zM1004 578h8v1h-8zM1012 579h8v1h-8zM1020 580h9v1h-9zM1029 581h8v1h-8zM1037 582h8v1h-8zM1045 583h8v1h-8zM1053 584h9v1h-9zM1062 585h8v1h-8zM1070 586h8v1h-8zM1078 587h9v1h-9zM1087 588h8v1h-8zM1095 589h8v1h-8zM1103 590h8v1h-8zM1111 591h9v1h-9zM1120 592h8v1h-8zM1128 593h8v1h-8zM1136 594h9v1h-9zM1145 595h8v1h-8zM1153 596h8v1h-8zM1161 597h8v1h-8zM1169 598h5v1h-5z" fill="#ff0000"/>
</svg>
<div class="t" style="left:21px;top:10px;"><span style="font-family:'DejaVu Sans','Liberation Sans',sans-serif;letter-spacing:0.05px;">GBPUSD.a,H4</span><span style="position:absolute;left:68.3px;top:0;">1.39028 1.39330 1.39027 1.39257</span></div>
<div class="t" style="left:10px;top:552px;"><span style="font-family:'DejaVu Sans','Liberation Sans',sans-serif;letter-spacing:-0.1px;">RSI(14)</span><span style="position:absolute;left:35px;top:0;">56.8912</span></div>
<div class="t pl" style="top:10px;">1.39985</div>
<div class="t pl" style="top:43px;">1.39715</div>
<div class="t pl" style="top:76px;">1.39440</div>
<div class="t pl" style="top:109px;">1.39170</div>
<div class="t pl" style="top:142px;">1.38895</div>
<div class="t pl" style="top:175px;">1.38625</div>
<div class="t pl" style="top:208px;">1.38350</div>
<div class="t pl" style="top:241px;">1.38080</div>
<div class="t pl" style="top:274px;">1.37805</div>
<div class="t pl" style="top:307px;">1.37535</div>
<div class="t pl" style="top:340px;">1.37260</div>
<div class="t pl" style="top:373px;">1.36990</div>
<div class="t pl" style="top:406px;">1.36720</div>
<div class="t pl" style="top:439px;">1.36445</div>
<div class="t pl" style="top:472px;">1.36175</div>
<div class="t pl" style="top:505px;">1.35900</div>
<div class="t pl" style="top:538px;">1.35630</div>
<div class="t" style="left:1541px;top:550px;">100</div>
<div class="t" style="left:1540px;top:587px;">70</div>
<div class="t" style="left:1540px;top:645px;">30</div>
<div class="t" style="left:1540px;top:681px;">0</div>
<div class="box" style="top:97px;background:#000;"><span>1.39257</span></div>
<div class="box" style="top:126px;background:#ff0000;"><span>1.39011</span></div>
<div class="box" style="top:316px;background:#ff0000;"><span>1.37443</span></div>
<div class="t tl" style="left:5px;">30 Jun 2021</div>
<div class="t tl" style="left:69px;">1 Jul 08:00</div>
<div class="t tl" style="left:133px;">2 Jul 16:00</div>
<div class="t tl" style="left:197px;">6 Jul 00:00</div>
<div class="t tl" style="left:261px;">7 Jul 08:00</div>
<div class="t tl" style="left:325px;">8 Jul 16:00</div>
<div class="t tl" style="left:389px;">12 Jul 00:00</div>
<div class="t tl" style="left:453px;">13 Jul 08:00</div>
<div class="t tl" style="left:517px;">14 Jul 16:00</div>
<div class="t tl" style="left:581px;">16 Jul 00:00</div>
<div class="t tl" style="left:645px;">19 Jul 08:00</div>
<div class="t tl" style="left:709px;">20 Jul 16:00</div>
<div class="t tl" style="left:773px;">22 Jul 00:00</div>
<div class="t tl" style="left:837px;">23 Jul 08:00</div>
<div class="t tl" style="left:901px;">26 Jul 16:00</div>
<div class="t tl" style="left:965px;">28 Jul 00:00</div>
<div class="t tl" style="left:1029px;">29 Jul 08:00</div>
<div class="t tl" style="left:1093px;">30 Jul 16:00</div>
<div class="t tl" style="left:1157px;">3 Aug 00:00</div>
<div id="wm">
<svg width="1585" height="712" viewBox="0 0 1585 712">
<defs>
<linearGradient id="lg1" x1="0.85" y1="0.1" x2="0.2" y2="0.9"><stop offset="0" stop-color="#ea4612"/><stop offset="1" stop-color="#c4261a"/></linearGradient>
<linearGradient id="lg2" x1="0.5" y1="0" x2="0.4" y2="1"><stop offset="0" stop-color="#ffe680"/><stop offset="0.55" stop-color="#fbc23c"/><stop offset="1" stop-color="#f4a416"/></linearGradient>
</defs>
<circle cx="1451.1" cy="662.4" r="22.6" fill="url(#lg1)"/>
<path fill="url(#lg2)" d="M1447.77 660.89C1447.95 661.15 1448.80 661.10 1449.53 661.24C1450.25 661.38 1451.46 661.34 1452.12 661.74C1452.79 662.13 1453.27 662.91 1453.53 663.63C1453.79 664.36 1453.89 665.31 1453.67 666.09C1453.45 666.87 1452.88 667.69 1452.19 668.34C1451.50 668.98 1450.56 669.60 1449.53 669.95C1448.50 670.30 1447.22 670.58 1446.01 670.44C1444.81 670.30 1443.40 669.84 1442.29 669.11C1441.18 668.38 1440.04 667.30 1439.34 666.09C1438.64 664.88 1438.10 663.22 1438.08 661.88C1438.06 660.53 1438.43 659.07 1439.20 658.01C1439.97 656.96 1441.99 656.49 1442.71 655.56C1443.44 654.62 1443.01 653.39 1443.56 652.40C1444.11 651.40 1444.96 650.23 1446.01 649.59C1447.07 648.94 1448.59 648.57 1449.88 648.53C1451.16 648.50 1452.57 648.79 1453.74 649.38C1454.91 649.96 1455.67 651.27 1456.90 652.04C1458.13 652.82 1459.88 653.07 1461.11 654.01C1462.34 654.95 1463.61 656.35 1464.27 657.66C1464.94 658.97 1465.16 660.35 1465.12 661.88C1465.07 663.40 1464.66 665.33 1463.99 666.79C1463.32 668.26 1462.29 669.43 1461.11 670.65C1459.93 671.88 1458.36 673.05 1456.90 674.17C1455.44 675.28 1453.97 676.35 1452.33 677.33C1450.70 678.30 1448.71 679.39 1447.07 679.99C1445.43 680.60 1443.85 681.05 1442.50 680.98C1441.16 680.91 1438.99 679.57 1438.99 679.57C1438.99 679.57 1442.21 678.19 1443.91 677.33C1445.60 676.46 1447.65 675.43 1449.17 674.38C1450.70 673.32 1452.01 672.21 1453.04 671.01C1454.07 669.80 1454.83 668.31 1455.35 667.14C1455.88 665.97 1456.15 664.92 1456.20 663.98C1456.24 663.05 1456.01 662.22 1455.63 661.53C1455.26 660.83 1454.73 660.25 1453.95 659.84C1453.17 659.43 1451.84 659.09 1450.93 659.07C1450.02 659.04 1449.00 659.40 1448.47 659.70C1447.95 660.00 1447.59 660.64 1447.77 660.89Z"/>
</svg>
<div class="cn" style="left:1478px;transform:scaleX(0.98);">中</div><div class="cn" style="left:1507px;transform:scaleX(1.18);">金</div><div class="cn" style="left:1543px;">网</div>
<div class="en">CNGOLD.COM.CN</div>
<div class="sub">中文财经新媒体</div>
</div>
</div></body></html>
